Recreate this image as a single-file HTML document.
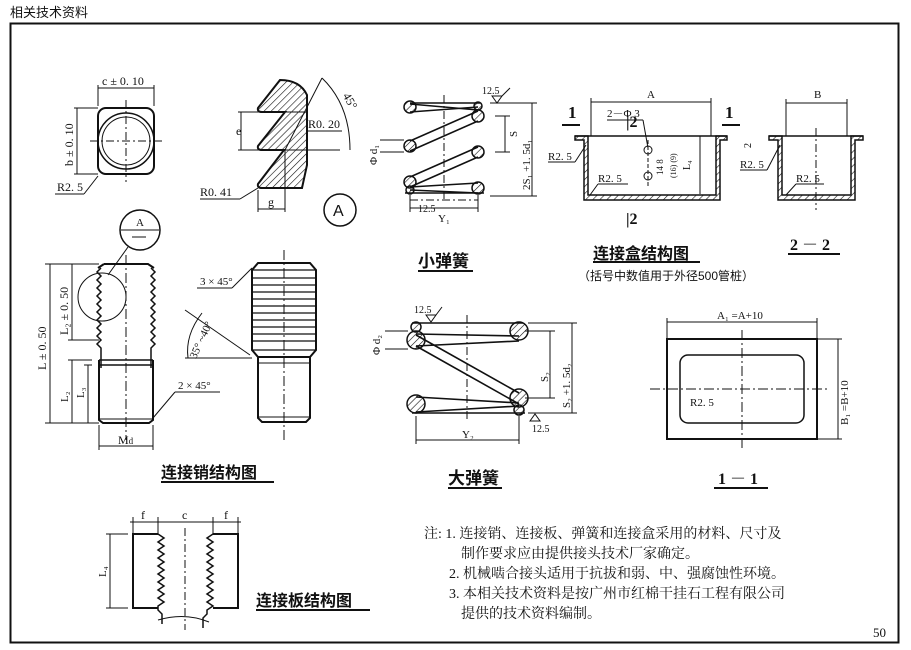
<!DOCTYPE html>
<html><head><meta charset="utf-8"><style>
body{margin:0;background:#fff;}
svg{display:block;}
text{font-family:"Liberation Serif","Noto Serif CJK SC",serif;fill:#111;}
.c{font-family:"Liberation Sans","Noto Sans CJK SC",sans-serif;}
</style></head><body>
<svg width="911" height="650" viewBox="0 0 911 650" xmlns="http://www.w3.org/2000/svg">
<defs>
<pattern id="h" width="5" height="5" patternUnits="userSpaceOnUse" patternTransform="rotate(45)"><line x1="0" y1="0" x2="0" y2="5" stroke="#111" stroke-width="1.2"/></pattern>
</defs>
<g stroke="#111" fill="none" stroke-width="1">
<text x="10" y="17" font-size="13" class="c" stroke="none">相关技术资料</text>
<rect x="10.5" y="23.5" width="888" height="619" stroke-width="2"/>
<!-- square nut -->
<rect x="98" y="108" width="56" height="66" rx="8" stroke-width="2"/>
<circle cx="126" cy="141" r="28" stroke-width="1.5"/>
<circle cx="126" cy="141" r="24"/>
<line x1="90" y1="141" x2="163" y2="141" stroke-dasharray="8 3 2 3"/>
<line x1="126" y1="100" x2="126" y2="182" stroke-dasharray="8 3 2 3"/>
<line x1="98" y1="88" x2="154" y2="88"/><line x1="98" y1="85" x2="98" y2="106"/><line x1="154" y1="85" x2="154" y2="106"/>
<line x1="77" y1="108" x2="77" y2="174"/><line x1="74" y1="108" x2="98" y2="108"/><line x1="74" y1="174" x2="98" y2="174"/>
<line x1="55" y1="194" x2="84" y2="194"/><line x1="84" y1="194" x2="98" y2="176"/>
<text x="102" y="85" font-size="12" stroke="none">c ± 0. 10</text>
<text transform="translate(73,166) rotate(-90)" font-size="12" stroke="none">b ± 0. 10</text>
<text x="57" y="191" font-size="12" stroke="none">R2. 5</text>
<!-- thread profile -->
<path d="M280 80 L258 108 Q257 112 262 112 L285 112 L258 146 Q257 150 262 150 L284 150 L258 184 Q257 188 262 188 L302 188 L307 165 L307 95 Q300 80 280 80 Z" fill="url(#h)" stroke-width="2"/>
<line x1="238" y1="112" x2="306" y2="112"/><line x1="238" y1="150" x2="340" y2="150"/><line x1="241" y1="112" x2="241" y2="150"/>
<text x="236" y="135" font-size="12" stroke="none">e</text>
<line x1="258" y1="190" x2="258" y2="212"/><line x1="285" y1="150" x2="285" y2="212"/><line x1="258" y1="209" x2="285" y2="209"/>
<text x="268" y="206" font-size="12" stroke="none">g</text>
<line x1="200" y1="199" x2="240" y2="199"/><line x1="240" y1="199" x2="258" y2="188"/>
<text x="200" y="196" font-size="12" stroke="none">R0. 41</text>
<line x1="307" y1="131" x2="342" y2="131"/><text x="308" y="128" font-size="12" stroke="none">R0. 20</text>
<line x1="285" y1="150" x2="322" y2="78"/>
<path d="M322 78 Q350 105 350 150"/><text x="340" y="100" font-size="12" stroke="none" transform="rotate(60 345 100)">45°</text>
<circle cx="340" cy="210" r="16" stroke-width="1.5"/><text x="333" y="216" font-size="16" class="c" stroke="none">A</text>
<!-- small spring -->
<g stroke-width="1.6">
<line x1="410" y1="103" x2="480" y2="103"/>
<line x1="410" y1="112" x2="478" y2="107"/><line x1="410" y1="104" x2="478" y2="110"/>
<line x1="410" y1="141" x2="478" y2="111"/><line x1="410" y1="151" x2="478" y2="121"/>
<line x1="410" y1="177" x2="478" y2="147"/><line x1="410" y1="187" x2="478" y2="157"/>
<line x1="410" y1="187" x2="478" y2="183"/><line x1="410" y1="190" x2="478" y2="193"/>
<line x1="405" y1="193" x2="484" y2="193"/>
</g>
<g fill="url(#h)" stroke-width="1.5">
<circle cx="410" cy="107" r="6"/><circle cx="410" cy="146" r="6"/><circle cx="410" cy="182" r="6"/><circle cx="410" cy="190" r="4"/>
<circle cx="478" cy="106" r="4"/><circle cx="478" cy="116" r="6"/><circle cx="478" cy="152" r="6"/><circle cx="478" cy="188" r="6"/>
</g>
<line x1="444" y1="95" x2="444" y2="200" stroke-dasharray="8 3 2 3"/>
<line x1="410" y1="200" x2="478" y2="200" stroke-dasharray="8 3 2 3"/>
<line x1="410" y1="208" x2="478" y2="208"/><line x1="410" y1="195" x2="410" y2="212"/><line x1="478" y1="195" x2="478" y2="212"/>
<text x="438" y="222" font-size="11" stroke="none">Y₁</text>
<line x1="505" y1="116" x2="505" y2="152"/><line x1="495" y1="116" x2="510" y2="116"/><line x1="495" y1="152" x2="510" y2="152"/>
<line x1="532" y1="103" x2="532" y2="196"/><line x1="490" y1="103" x2="537" y2="103"/><line x1="490" y1="196" x2="537" y2="196"/>
<text transform="translate(517,137) rotate(-90)" font-size="11" stroke="none">S</text>
<text transform="translate(530,190) rotate(-90)" font-size="11" stroke="none">2S₁ +1. 5d₁</text>
<line x1="380" y1="140" x2="404" y2="140"/><line x1="380" y1="152" x2="404" y2="152"/>
<text transform="translate(377,165) rotate(-90)" font-size="11" stroke="none">Φ d₁</text>
<text x="482" y="94" font-size="10" stroke="none">12.5</text><path d="M492 96 l5 7 l5 -7 z M502 96 l8 -8"/>
<text x="418" y="212" font-size="10" stroke="none">12.5</text>
<text x="418" y="267" font-size="17" font-weight="bold" class="c" stroke="none">小弹簧</text>
<line x1="418" y1="271" x2="473" y2="271" stroke-width="2"/>
<!-- box -->
<path d="M575 136 L588 136 L588 195 L716 195 L716 136 L727 136 L727 140 L720 140 L720 200 L584 200 L584 140 L575 140 Z" fill="url(#h)" stroke-width="1.5"/>
<line x1="575" y1="136" x2="727" y2="136" stroke-width="1.5"/>
<line x1="591" y1="102" x2="711" y2="102"/><line x1="591" y1="98" x2="591" y2="136"/><line x1="711" y1="98" x2="711" y2="136"/>
<text x="647" y="98" font-size="11" stroke="none">A</text>
<text x="568" y="118" font-size="17" font-weight="bold" stroke="none">1</text><line x1="562" y1="125" x2="580" y2="125" stroke-width="2"/>
<text x="725" y="118" font-size="17" font-weight="bold" stroke="none">1</text><line x1="722" y1="125" x2="740" y2="125" stroke-width="2"/>
<text x="607" y="117" font-size="11" stroke="none">2－Φ 3</text><line x1="607" y1="120" x2="643" y2="120"/><line x1="643" y1="120" x2="648" y2="148"/>
<text x="626" y="127" font-size="16" font-weight="bold" stroke="none">|2</text>
<text x="626" y="224" font-size="16" font-weight="bold" stroke="none">|2</text>
<circle cx="648" cy="150" r="4"/><circle cx="648" cy="176" r="4"/>
<line x1="648" y1="140" x2="648" y2="186" stroke-dasharray="4 2"/>
<text x="548" y="160" font-size="11" stroke="none">R2. 5</text><line x1="548" y1="162" x2="575" y2="162"/><line x1="575" y1="162" x2="586" y2="145"/>
<text x="598" y="182" font-size="11" stroke="none">R2. 5</text><line x1="598" y1="184" x2="628" y2="184"/><line x1="598" y1="184" x2="590" y2="195"/>
<text transform="translate(663,175) rotate(-90)" font-size="9" stroke="none">14  8</text>
<text transform="translate(676,178) rotate(-90)" font-size="8" stroke="none">(16) (9)</text>
<text transform="translate(690,170) rotate(-90)" font-size="10" stroke="none">L₄</text>
<line x1="700" y1="136" x2="700" y2="194"/>
<text x="593" y="259" font-size="16" font-weight="bold" class="c" stroke="none">连接盒结构图</text>
<line x1="593" y1="262" x2="700" y2="262" stroke-width="2"/>
<text x="578" y="280" font-size="12" class="c" stroke="none">（括号中数值用于外径500管桩）</text>
<path d="M769 136 L782 136 L782 195 L851 195 L851 136 L863 136 L863 140 L855 140 L855 200 L778 200 L778 140 L769 140 Z" fill="url(#h)" stroke-width="1.5"/>
<line x1="769" y1="136" x2="863" y2="136" stroke-width="1.5"/>
<line x1="816" y1="128" x2="816" y2="210" stroke-dasharray="8 3 2 3"/>
<line x1="786" y1="103" x2="847" y2="103"/><line x1="786" y1="99" x2="786" y2="136"/><line x1="847" y1="99" x2="847" y2="136"/>
<text x="814" y="98" font-size="11" stroke="none">B</text>
<text transform="translate(751,148) rotate(-90)" font-size="10" stroke="none">2</text>
<text x="740" y="168" font-size="11" stroke="none">R2. 5</text><line x1="740" y1="170" x2="767" y2="170"/><line x1="767" y1="170" x2="780" y2="145"/>
<text x="796" y="182" font-size="11" stroke="none">R2. 5</text><line x1="796" y1="184" x2="824" y2="184"/><line x1="796" y1="184" x2="786" y2="195"/>
<text x="790" y="250" font-size="16" font-weight="bold" stroke="none">2 － 2</text>
<line x1="788" y1="254" x2="840" y2="254" stroke-width="2"/>
<!-- pin -->
<circle cx="140" cy="230" r="20" stroke-width="1.5"/><text x="136" y="226" font-size="11" stroke="none">A</text><line x1="121" y1="230" x2="159" y2="230"/><line x1="132" y1="237" x2="146" y2="237"/>
<line x1="128" y1="247" x2="108" y2="275"/>
<path d="M104 264 L148 264 L154 268" stroke-width="2"/><path d="M104 264 L98 268" stroke-width="2"/>
<path d="M101 268 l-4 4 l4 4 l-4 4 l4 4 l-4 4 l4 4 l-4 4 l4 4 l-4 4 l4 4 l-4 4 l4 4 l-4 4 l4 4 l-4 4 l4 4 l-4 4 l4 4 l-4 4 l4 4 l0 20" stroke-width="1.5"/>
<path d="M151 268 l4 4 l-4 4 l4 4 l-4 4 l4 4 l-4 4 l4 4 l-4 4 l4 4 l-4 4 l4 4 l-4 4 l4 4 l-4 4 l4 4 l-4 4 l4 4 l-4 4 l4 4 l-4 4 l0 20" stroke-width="1.5"/>
<line x1="99" y1="360" x2="153" y2="360" stroke-width="1.5"/><line x1="99" y1="365" x2="153" y2="365" stroke-width="1.5"/>
<path d="M99 360 L99 420 L103 423 L149 423 L153 420 L153 360" stroke-width="2"/>
<line x1="99" y1="419" x2="153" y2="419"/>
<line x1="126" y1="255" x2="126" y2="440" stroke-dasharray="10 3 2 3"/>
<circle cx="102" cy="297" r="24"/>
<line x1="50" y1="264" x2="50" y2="423"/><line x1="72" y1="264" x2="72" y2="340"/><line x1="72" y1="360" x2="72" y2="423"/><line x1="88" y1="365" x2="88" y2="423"/>
<line x1="45" y1="264" x2="99" y2="264"/><line x1="45" y1="423" x2="99" y2="423"/><line x1="68" y1="340" x2="99" y2="340"/><line x1="68" y1="360" x2="92" y2="360"/><line x1="84" y1="365" x2="92" y2="365"/>
<text transform="translate(46,370) rotate(-90)" font-size="12" stroke="none">L ± 0. 50</text>
<text transform="translate(68,335) rotate(-90)" font-size="12" stroke="none">L₂ ± 0. 50</text>
<text transform="translate(68,402) rotate(-90)" font-size="11" stroke="none">L₂</text>
<text transform="translate(84,398) rotate(-90)" font-size="11" stroke="none">L₃</text>
<line x1="99" y1="425" x2="99" y2="450"/><line x1="153" y1="425" x2="153" y2="450"/><line x1="99" y1="446" x2="153" y2="446"/>
<text x="118" y="444" font-size="12" stroke="none">M<tspan font-size="9">d</tspan></text>
<line x1="153" y1="418" x2="175" y2="392"/><line x1="175" y1="392" x2="220" y2="392"/><text x="178" y="389" font-size="11" stroke="none">2 × 45°</text>
<text x="161" y="478" font-size="16" font-weight="bold" class="c" stroke="none">连接销结构图</text>
<line x1="161" y1="482" x2="274" y2="482" stroke-width="2"/>
<!-- bolt -->
<path d="M258 263 L310 263 L316 270 L316 350 L310 357 L258 357 L252 350 L252 270 Z" stroke-width="2"/>
<g stroke-width="1.2"><line x1="252" y1="270" x2="316" y2="270"/><line x1="252" y1="278" x2="316" y2="278"/><line x1="252" y1="285" x2="316" y2="285"/><line x1="252" y1="292" x2="316" y2="292"/><line x1="252" y1="299" x2="316" y2="299"/><line x1="252" y1="306" x2="316" y2="306"/><line x1="252" y1="313" x2="316" y2="313"/><line x1="252" y1="320" x2="316" y2="320"/><line x1="252" y1="327" x2="316" y2="327"/><line x1="252" y1="334" x2="316" y2="334"/><line x1="252" y1="341" x2="316" y2="341"/><line x1="252" y1="350" x2="316" y2="350"/></g>
<path d="M258 357 L258 418 L262 422 L306 422 L310 418 L310 357" stroke-width="2"/>
<line x1="258" y1="363" x2="310" y2="363"/><line x1="258" y1="417" x2="310" y2="417"/>
<line x1="284" y1="250" x2="284" y2="440" stroke-dasharray="10 3 2 3"/>
<line x1="197" y1="288" x2="232" y2="288"/><line x1="232" y1="288" x2="252" y2="268"/><text x="200" y="285" font-size="11" stroke="none">3 × 45°</text>
<path d="M202 313 Q185 335 188 358"/><line x1="185" y1="310" x2="250" y2="355"/><line x1="185" y1="358" x2="252" y2="358"/>
<text x="172" y="358" font-size="11" stroke="none" transform="rotate(-65 185 340)">35° ~40°</text>
<!-- big spring -->
<g stroke-width="1.6">
<line x1="412" y1="323" x2="523" y2="323"/>
<line x1="416" y1="334" x2="519" y2="336"/><line x1="416" y1="346" x2="519" y2="341"/>
<line x1="416" y1="335" x2="519" y2="393"/><line x1="416" y1="346" x2="519" y2="404"/>
<line x1="416" y1="397" x2="519" y2="403"/><line x1="416" y1="412" x2="519" y2="406"/>
<line x1="412" y1="413" x2="525" y2="413"/>
</g>
<g fill="url(#h)" stroke-width="1.5">
<circle cx="416" cy="327" r="5"/><circle cx="416" cy="340" r="9"/><circle cx="416" cy="404" r="9"/>
<circle cx="519" cy="331" r="9"/><circle cx="519" cy="398" r="9"/><circle cx="519" cy="410" r="5"/>
</g>
<line x1="467" y1="315" x2="467" y2="420" stroke-dasharray="8 3 2 3"/>
<line x1="416" y1="440" x2="519" y2="440"/><line x1="416" y1="416" x2="416" y2="444"/><line x1="519" y1="416" x2="519" y2="444"/>
<text x="462" y="438" font-size="11" stroke="none">Y₂</text>
<line x1="550" y1="331" x2="550" y2="398"/><line x1="525" y1="331" x2="555" y2="331"/><line x1="525" y1="398" x2="555" y2="398"/>
<line x1="572" y1="323" x2="572" y2="413"/><line x1="528" y1="323" x2="577" y2="323"/><line x1="528" y1="413" x2="577" y2="413"/>
<text transform="translate(548,382) rotate(-90)" font-size="11" stroke="none">S₂</text>
<text transform="translate(570,408) rotate(-90)" font-size="11" stroke="none">S₂ +1. 5d₂</text>
<line x1="385" y1="331" x2="408" y2="331"/><line x1="385" y1="349" x2="408" y2="349"/>
<text transform="translate(380,355) rotate(-90)" font-size="11" stroke="none">Φ d₂</text>
<text x="414" y="313" font-size="10" stroke="none">12.5</text><path d="M426 315 l5 7 l5 -7 z M436 315 l6 -8"/>
<text x="532" y="432" font-size="10" stroke="none">12.5</text><path d="M530 421 l5 -7 l5 7 z M530 421 l0 0"/>
<text x="448" y="484" font-size="17" font-weight="bold" class="c" stroke="none">大弹簧</text>
<line x1="448" y1="488" x2="502" y2="488" stroke-width="2"/>
<!-- 1-1 -->
<rect x="667" y="339" width="150" height="100" stroke-width="2"/>
<rect x="680" y="355" width="124" height="68" rx="8" stroke-width="1.5"/>
<line x1="650" y1="389" x2="830" y2="389" stroke-dasharray="10 3 2 3"/><line x1="742" y1="330" x2="742" y2="450" stroke-dasharray="10 3 2 3"/>
<line x1="667" y1="322" x2="817" y2="322"/><line x1="667" y1="318" x2="667" y2="339"/><line x1="817" y1="318" x2="817" y2="339"/>
<text x="717" y="319" font-size="11" stroke="none">A₁ =A+10</text>
<line x1="838" y1="339" x2="838" y2="439"/><line x1="817" y1="339" x2="842" y2="339"/><line x1="817" y1="439" x2="842" y2="439"/>
<text transform="translate(848,425) rotate(-90)" font-size="11" stroke="none">B₁ =B+10</text>
<text x="690" y="406" font-size="11" stroke="none">R2. 5</text>
<text x="718" y="484" font-size="16" font-weight="bold" stroke="none">1 － 1</text>
<line x1="714" y1="488" x2="768" y2="488" stroke-width="2"/>
<!-- plate -->
<path d="M158 534 L133 534 L133 608 L158 608 M213 534 L238 534 L238 608 L213 608" stroke-width="2"/>
<path d="M158 534 l6 4 l-6 4 l6 4 l-6 4 l6 4 l-6 4 l6 4 l-6 4 l6 4 l-6 4 l6 4 l-6 4 l6 4 l-6 4 l6 4 l-6 4 l6 4 l-6 4 l0 4 l4 4 l0 10" stroke-width="1.5"/>
<path d="M213 534 l-6 4 l6 4 l-6 4 l6 4 l-6 4 l6 4 l-6 4 l6 4 l-6 4 l6 4 l-6 4 l6 4 l-6 4 l6 4 l-6 4 l6 4 l-6 4 l6 4 l-6 4 l0 4 l-4 4 l0 10" stroke-width="1.5"/>
<path d="M158 620 Q185 612 209 622"/>
<line x1="185" y1="528" x2="185" y2="630" stroke-dasharray="8 3 2 3"/>
<line x1="133" y1="517" x2="133" y2="534"/><line x1="158" y1="517" x2="158" y2="534"/><line x1="213" y1="517" x2="213" y2="534"/><line x1="238" y1="517" x2="238" y2="534"/>
<line x1="130" y1="522" x2="241" y2="522"/>
<text x="141" y="519" font-size="12" stroke="none">f</text><text x="182" y="519" font-size="12" stroke="none">c</text><text x="224" y="519" font-size="12" stroke="none">f</text>
<line x1="110" y1="534" x2="110" y2="608"/><line x1="106" y1="534" x2="128" y2="534"/><line x1="106" y1="608" x2="128" y2="608"/>
<text transform="translate(106,577) rotate(-90)" font-size="11" stroke="none">L₄</text>
<text x="256" y="606" font-size="16" font-weight="bold" class="c" stroke="none">连接板结构图</text>
<line x1="256" y1="610" x2="370" y2="610" stroke-width="2"/>
<!-- notes -->
<g font-size="14" class="c" stroke="none">
<text x="424" y="538">注: 1. 连接销、连接板、弹簧和连接盒采用的材料、尺寸及</text>
<text x="461" y="558">制作要求应由提供接头技术厂家确定。</text>
<text x="449" y="578">2. 机械啮合接头适用于抗拔和弱、中、强腐蚀性环境。</text>
<text x="449" y="598">3. 本相关技术资料是按广州市红棉干挂石工程有限公司</text>
<text x="461" y="618">提供的技术资料编制。</text>
</g>
<text x="873" y="637" font-size="13" stroke="none">50</text>
</g>
</svg>
</body></html>
